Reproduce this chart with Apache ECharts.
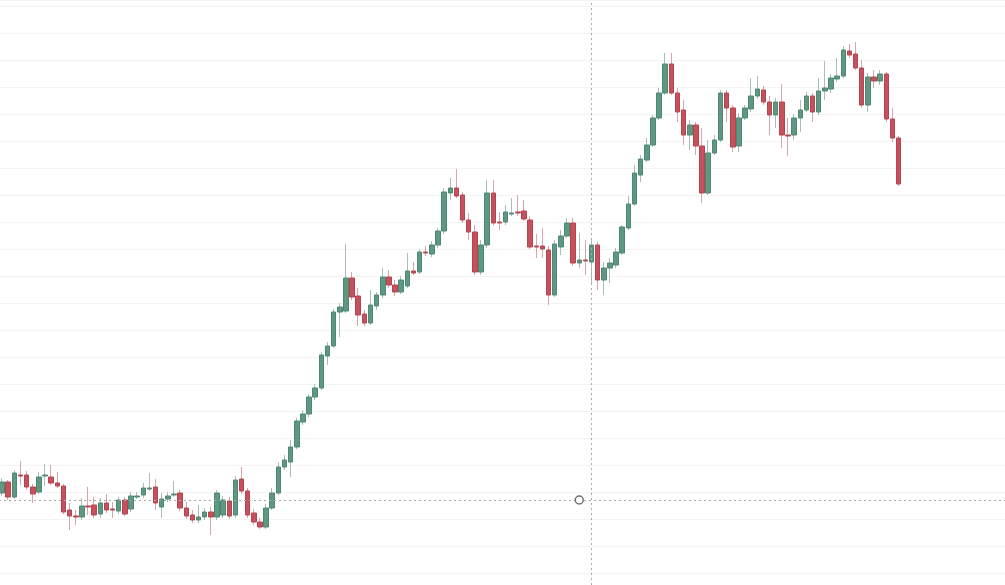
<!DOCTYPE html>
<html>
<head>
<meta charset="utf-8">
<script src="https://cdn.jsdelivr.net/npm/echarts@6/dist/echarts.min.js"></script>
<style>
  html, body { margin: 0; padding: 0; background: #ffffff; }
  #chart { width: 1005px; height: 585px; }
</style>
</head>
<body>
<div id="chart"></div>
<script>
const opens = [107,118,103,125,125,113,108,124,123,117,114,90,84,83,94,95,86,97,91,89,100,91,103,105,111,113,93,101,105,107,92,85,80,83,88,83,85,99,85,121,109,87,78,73,92,107,133,138,153,178,186,203,212,244,254,288,289,322,304,286,277,294,305,323,315,308,314,329,328,348,346,355,369,407,412,405,380,368,328,355,407,378,378,386,388,389,380,354,354,350,305,353,364,377,337,340,338,355,320,332,335,347,372,396,425,440,455,482,507,536,507,490,465,475,454,407,447,460,507,492,454,482,491,504,510,498,485,498,465,465,482,490,504,488,509,511,521,524,549,546,532,495,523,519,526,481,462];
const closes = [118,103,127,124,113,106,123,125,117,114,88,84,83,94,93,85,97,90,90,100,86,104,104,112,112,97,101,104,106,92,84,80,83,88,83,107,100,84,120,109,85,78,73,92,107,133,140,153,179,186,203,212,245,254,288,293,322,303,285,277,295,305,323,315,308,320,329,327,348,347,355,369,408,412,404,380,368,328,355,407,377,377,388,387,387,381,353,353,351,305,356,364,377,337,340,339,355,320,332,337,348,373,396,427,441,455,482,507,536,507,488,465,475,454,407,447,460,507,492,453,482,492,504,511,498,485,498,465,464,482,490,504,488,509,512,522,524,550,545,532,495,523,519,526,481,462,416];
const lows = [104,100,101,115,110,97,106,114,115,112,86,70,75,80,85,82,82,87,82,86,84,88,101,102,109,90,82,98,103,89,81,77,77,80,65,80,82,81,82,106,82,75,71,71,90,105,130,123,151,175,183,200,210,235,252,263,287,300,274,274,275,290,302,312,304,306,312,325,326,344,343,352,366,400,402,377,360,325,325,352,374,370,375,384,384,379,351,342,342,295,303,345,362,334,332,325,315,310,305,317,332,345,370,394,418,438,453,480,505,505,478,455,450,445,397,405,445,458,478,448,448,480,488,501,495,465,472,452,444,460,468,488,478,485,500,507,518,522,542,530,492,488,512,515,478,458,414];
const highs = [122,120,130,139,129,116,128,136,135,128,116,97,90,102,113,103,102,106,98,103,103,108,108,117,127,121,107,108,119,110,98,90,95,92,93,110,104,103,124,133,112,91,82,96,112,138,145,160,182,190,206,216,248,258,291,297,356,328,312,290,310,308,332,330,320,324,347,338,351,354,359,372,412,422,431,408,387,375,360,420,420,388,395,402,405,400,384,366,372,354,360,370,382,382,367,360,360,358,338,342,352,375,404,435,445,462,485,512,547,547,512,500,480,478,472,460,465,510,510,495,487,495,522,524,514,504,502,516,482,486,500,508,507,522,539,526,542,554,556,558,540,527,530,530,528,492,464];

// the time axis continues past the last bar (empty space on the right)
const totalSlots = 164;
const categories = [];
for (let i = 0; i < totalSlots; i++) categories.push('D' + (i + 1));

// crosshair annotation (category index, value)
const crossIndex = 96;
const crossValue = 100;
const markerIndex = 94;

const upBody = '#5f9882', upBorder = '#4f8872', upWick = '#a9bfb5';
const downBody = '#c6505b', downBorder = '#b4454f', downWick = '#d9a5aa';

const fullData = opens.map((o, i) => [o, closes[i], lows[i], highs[i]]);
const bodyData = opens.map((o, i) => [o, closes[i], Math.min(o, closes[i]), Math.max(o, closes[i])]);

const chart = echarts.init(document.getElementById('chart'), null, { renderer: 'canvas' });
chart.setOption({
  animation: false,
  backgroundColor: '#ffffff',
  grid: { left: -1, top: 0, width: 1007, height: 600, containLabel: false, outerBoundsMode: 'none' },
  xAxis: {
    type: 'category',
    data: categories,
    boundaryGap: true,
    axisLine: { show: false },
    axisTick: { show: false },
    axisLabel: { show: false },
    splitLine: { show: false }
  },
  yAxis: {
    type: 'value',
    min: 0,
    max: 600,
    interval: 27,
    axisLine: { show: false },
    axisTick: { show: false },
    axisLabel: { show: false },
    splitLine: { show: true, lineStyle: { color: '#f3f3f3', width: 1 } }
  },
  series: [
    {
      name: 'wicks',
      type: 'candlestick',
      data: fullData,
      barWidth: 1,
      itemStyle: {
        color: upWick, color0: downWick,
        borderColor: upWick, borderColor0: downWick,
        borderWidth: 1
      },
      silent: true,
      markLine: {
        silent: true,
        symbol: ['none', 'none'],
        label: { show: false },
        lineStyle: { color: '#a8a8a8', type: [2, 3], width: 1 },
        data: [
          { xAxis: crossIndex },
          { yAxis: crossValue }
        ]
      }
    },
    {
      name: 'bodies',
      type: 'candlestick',
      data: bodyData,
      barWidth: 5,
      itemStyle: {
        color: upBody, color0: downBody,
        borderColor: upBorder, borderColor0: downBorder,
        borderWidth: 1
      },
      silent: true,
      markPoint: {
        silent: true,
        symbol: 'circle',
        symbolSize: 8,
        label: { show: false },
        itemStyle: { color: '#ffffff', borderColor: '#707070', borderWidth: 1.5 },
        data: [ { coord: [markerIndex, crossValue] } ]
      }
    }
  ]
});
</script>
</body>
</html>
